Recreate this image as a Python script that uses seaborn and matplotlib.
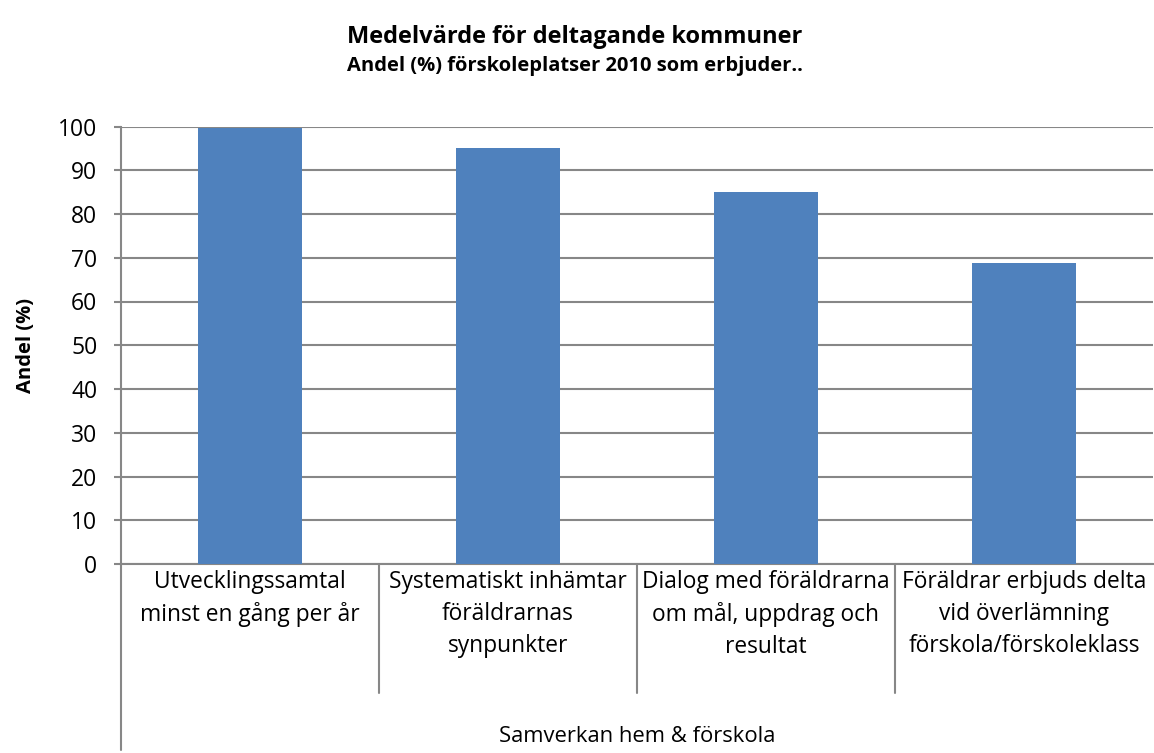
import matplotlib
matplotlib.use("Agg")
import matplotlib.pyplot as plt
import matplotlib.transforms as mtransforms
import seaborn as sns
import pandas as pd

categories = [
    "Utvecklingssamtal\nminst en gång per år",
    "Systematiskt inhämtar\nföräldrarnas\nsynpunkter",
    "Dialog med föräldrarna\nom mål, uppdrag och\nresultat",
    "Föräldrar erbjuds delta\nvid överlämning\nförskola/förskoleklass",
]
values = [99.6, 95.0, 85.1, 68.9]
group_label = "Samverkan hem & förskola"
title = "Medelvärde för deltagande kommuner"
subtitle = "Andel (%) förskoleplatser 2010 som erbjuder.."
ylabel = "Andel (%)"
yticks = list(range(0, 101, 10))

sns.set_theme(style="white")
plt.rcParams["font.family"] = ["Open Sans", "DejaVu Sans"]
plt.rcParams["text.color"] = "black"
plt.rcParams["axes.labelcolor"] = "black"
plt.rcParams["xtick.color"] = "black"
plt.rcParams["ytick.color"] = "black"

df = pd.DataFrame({"kategori": categories, "andel": values})

fig = plt.figure(figsize=(11.54, 7.53), dpi=100)
ax = fig.add_axes([121 / 1154, 1 - 564 / 753, 1032 / 1154, 437.5 / 753])

sns.barplot(data=df, x="kategori", y="andel", color="#4F81BD", width=0.4,
            saturation=1, ax=ax, zorder=3, linewidth=0)

gray = "#878787"
ax.set_ylim(0, 100)
ax.set_xlim(-0.5, len(categories) - 0.5)
ax.set_yticks(yticks)
ax.set_yticklabels([str(t) for t in yticks], fontsize=16.5, color="black")
ax.yaxis.grid(True, color=gray, linewidth=1.5, zorder=0)
ax.set_axisbelow(True)
for s in ["top", "right"]:
    ax.spines[s].set_visible(False)
for s in ["left", "bottom"]:
    ax.spines[s].set_color(gray)
    ax.spines[s].set_linewidth(1.5)
ax.tick_params(axis="y", length=5, width=1.5, color=gray, labelcolor="black",
               pad=12, left=True)
ax.tick_params(axis="x", length=0, pad=4, labelcolor="black")
ax.set_xticks(range(len(categories)))
ax.set_xticklabels(categories, fontsize=16.4, linespacing=1.45)
ax.set_xlabel("")
ax.set_ylabel(ylabel, fontsize=14.5, fontweight="bold", labelpad=16, color="black")

trans = mtransforms.blended_transform_factory(ax.transData, ax.transAxes)
for i in range(len(categories) - 1):
    ax.plot([i + 0.5, i + 0.5], [0, -129 / 437.5], transform=trans,
            color=gray, linewidth=1.5, clip_on=False)
ax.plot([-0.5, -0.5], [0, -186 / 437.5], transform=trans,
        color=gray, linewidth=1.5, clip_on=False)

ax.text(0.5, -(737 - 564) / 437.5, group_label, transform=ax.transAxes,
        ha="center", va="center", fontsize=15.8, color="black")

fig.text(575 / 1154, 1 - 37 / 753, title, ha="center", va="center",
         fontsize=17, fontweight="bold", color="black")
fig.text(575 / 1154, 1 - 66 / 753, subtitle, ha="center", va="center",
         fontsize=14.5, fontweight="bold", color="black")

fig.savefig("out.png", dpi=100)
